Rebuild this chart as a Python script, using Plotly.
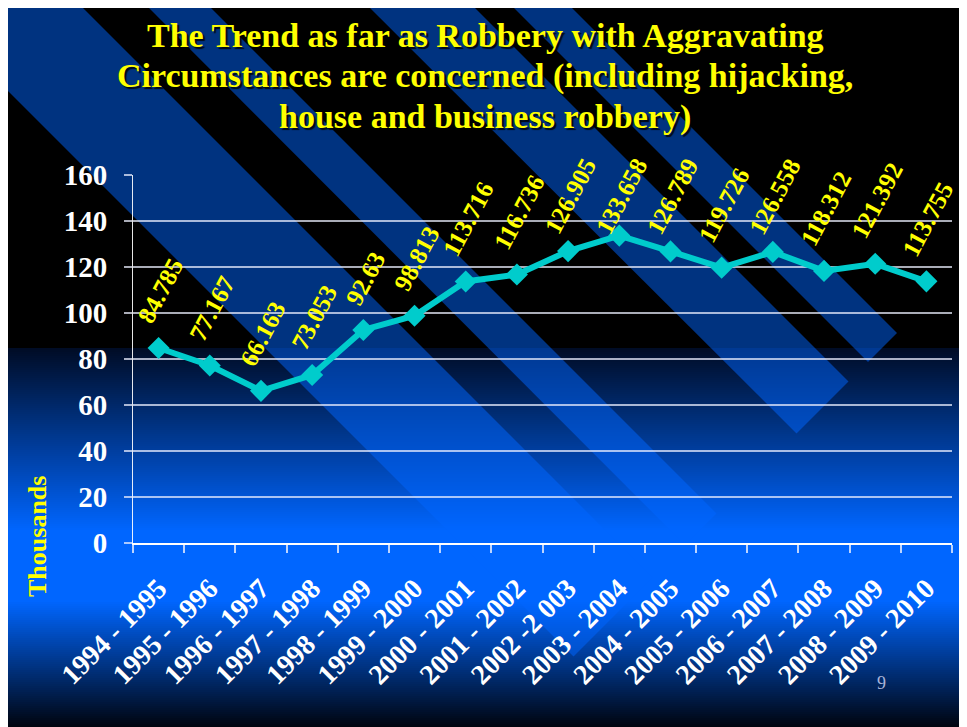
import math
import plotly.graph_objects as go

# ---------------- data ----------------
periods = ["1994 - 1995", "1995 - 1996", "1996 - 1997", "1997 - 1998", "1998 - 1999",
           "1999 - 2000", "2000 - 2001", "2001 - 2002", "2002 -2 003", "2003 - 2004",
           "2004 - 2005", "2005 - 2006", "2006 - 2007", "2007 - 2008", "2008 - 2009",
           "2009 - 2010"]
robberies = [84.785, 77.167, 66.163, 73.053, 92.63, 98.813, 113.716, 116.736, 126.905,
             133.658, 126.789, 119.726, 126.558, 118.312, 121.392, 113.755]
value_labels = ["84.785", "77.167", "66.163", "73.053", "92.63", "98.813", "113.716",
                "116.736", "126.905", "133.658", "126.789", "119.726", "126.558",
                "118.312", "121.392", "113.755"]
y_ticks = [0, 20, 40, 60, 80, 100, 120, 140, 160]
title_lines = ["The Trend as far as Robbery with Aggravating",
               "Circumstances are concerned (including hijacking,",
               "house and business robbery)"]
y_title = "Thousands"
page_no = "9"

# ---------------- layout geometry ----------------
FW, FH = 967, 727
OFF = 8  # page body margin: screen coords = figure coords + OFF
# plot area measured in screen coords
SX0, SY0, SX1, SY1 = 133, 175, 952, 543
PL, PT = SX0 - OFF, SY0 - OFF
PR, PB = FW - (SX1 - OFF), FH - (SY1 - OFF)
PW, PH = FW - PL - PR, FH - PT - PB
YMAX = 160
SERIF = "Liberation Serif"


def pp(x, y):
    """screen pixel -> paper coords"""
    fx, fy = x - OFF, y - OFF
    return (fx - PL) / PW, (PT + PH - fy) / PH


def lerp(c0, c1, t):
    return tuple(round(a + (b - a) * t) for a, b in zip(c0, c1))


shapes = []


def rect_px(x0, y0, x1, y1, color):
    a0, b0 = pp(x0, y0)
    a1, b1 = pp(x1, y1)
    shapes.append(dict(type="rect", xref="paper", yref="paper", x0=a0, y0=b1, x1=a1, y1=b0,
                       fillcolor=color, line=dict(width=0), layer="below"))


SCR_R, SCR_B = FW + OFF, FH + OFF
# black upper part
rect_px(0, 0, SCR_R, 348, "rgb(0,0,0)")
# gradient lower part
dark = (0, 12, 38)
bright = (0, 102, 255)
bottom = (0, 3, 12)
step = 2
y = 348
while y < SCR_B:
    if y < 530:
        c = lerp(dark, bright, (y - 348) / (530 - 348))
    elif y < 600:
        c = bright
    else:
        c = lerp(bright, bottom, min(1, (y - 600) / (727 - 600)))
    rect_px(0, y, SCR_R, min(y + step + 0.6, SCR_B), "rgb(%d,%d,%d)" % c)
    y += step

# diagonal translucent stripes (screen coords)
stripes = [
    [(0, -75), (158, 83), (652.5, 577.5), (573.5, 656.5), (0, 83)],
    [(141, 0), (203, 0), (716.5, 513.5), (685, 545)],
    [(362, 0), (467, 0), (848.5, 381.5), (796.5, 433.5)],
    [(506, 0), (564, 0), (897, 333), (868, 362)],
]
for poly in stripes:
    pts = [pp(x, y) for x, y in poly]
    path = "M " + " L ".join("%.5f,%.5f" % p for p in pts) + " Z"
    shapes.append(dict(type="path", xref="paper", yref="paper", path=path,
                       fillcolor="rgba(0,102,255,0.5)", line=dict(width=0), layer="below"))

# ---------------- figure ----------------
fig = go.Figure()
fig.add_trace(go.Scatter(
    x=periods, y=robberies, mode="lines+markers",
    line=dict(color="#00CCCC", width=6),
    marker=dict(symbol="diamond", size=17, color="#00CCCC"),
    hoverinfo="x+y", showlegend=False,
))

annotations = []
# data labels
LBL_SIZE = 25
ang = math.radians(62)
TOP_LIMIT = 156 - OFF
for cat, v, txt in zip(periods, robberies, value_labels):
    marker_px = PT + (1 - v / YMAX) * PH
    width_em = sum(0.25 if ch == "." else 0.5 for ch in txt)
    L = width_em * LBL_SIZE
    Hb = L * math.sin(ang) + 1.15 * LBL_SIZE * math.cos(ang)
    gap = 18
    top = marker_px - gap - Hb
    if top < TOP_LIMIT:
        gap = marker_px - TOP_LIMIT - Hb
    annotations.append(dict(
        x=cat, y=v, xref="x", yref="y", text=txt, showarrow=False,
        textangle=-62, xanchor="center", yanchor="bottom", yshift=gap, xshift=2,
        font=dict(family=SERIF, size=LBL_SIZE, color="#FFFF00", weight="bold"),
    ))

for line_txt, ly in zip(title_lines, [35, 76, 117]):
    tx, ty = pp(485, ly)
    annotations.append(dict(
        x=tx, y=ty, xref="paper", yref="paper", text=line_txt, showarrow=False,
        xanchor="center", yanchor="middle", align="center",
        font=dict(family=SERIF, size=34, color="#FFFF00", weight="bold",
                  shadow="2px 2px 1px rgba(0,0,0,0.85)"),
    ))
ax_, ay_ = pp(37, 537)
annotations.append(dict(
    x=ax_, y=ay_, xref="paper", yref="paper", text=y_title, showarrow=False,
    textangle=-90, xanchor="center", yanchor="middle",
    font=dict(family=SERIF, size=26, color="#FFFF00", weight="bold"),
))
px_, py_ = pp(881, 683)
annotations.append(dict(
    x=px_, y=py_, xref="paper", yref="paper", text=page_no, showarrow=False,
    xanchor="center", yanchor="middle",
    font=dict(family=SERIF, size=18, color="#A8B4D8"),
))

grid_col = "rgba(235,240,255,0.72)"
fig.update_layout(
    width=FW, height=FH,
    margin=dict(l=PL, r=PR, t=PT, b=PB, autoexpand=False),
    paper_bgcolor="white",
    plot_bgcolor="rgba(0,0,0,0)",
    shapes=shapes,
    annotations=annotations,
    showlegend=False,
    xaxis=dict(
        type="category", tickson="boundaries", ticks="outside", ticklen=8,
        tickcolor="rgba(235,240,255,0.8)", tickwidth=1.5,
        showline=True, linecolor="white", linewidth=1.5,
        showgrid=False, tickangle=-45, automargin=False,
        ticklabelstandoff=16,
        tickfont=dict(family=SERIF, size=28, color="white", weight="bold"),
        range=[-0.5, len(periods) - 0.5], fixedrange=True,
    ),
    yaxis=dict(
        range=[0, YMAX], tickvals=y_ticks, ticktext=[str(t) for t in y_ticks],
        showgrid=True, gridcolor=grid_col, gridwidth=1.5,
        ticks="outside", ticklen=8, tickcolor=grid_col, tickwidth=1.5,
        showline=True, linecolor="rgba(255,255,255,0.9)", linewidth=1,
        zeroline=False, automargin=False, ticklabelstandoff=11,
        tickfont=dict(family=SERIF, size=29, color="white", weight="bold"),
        fixedrange=True,
    ),
)

fig.write_html("out.html")
